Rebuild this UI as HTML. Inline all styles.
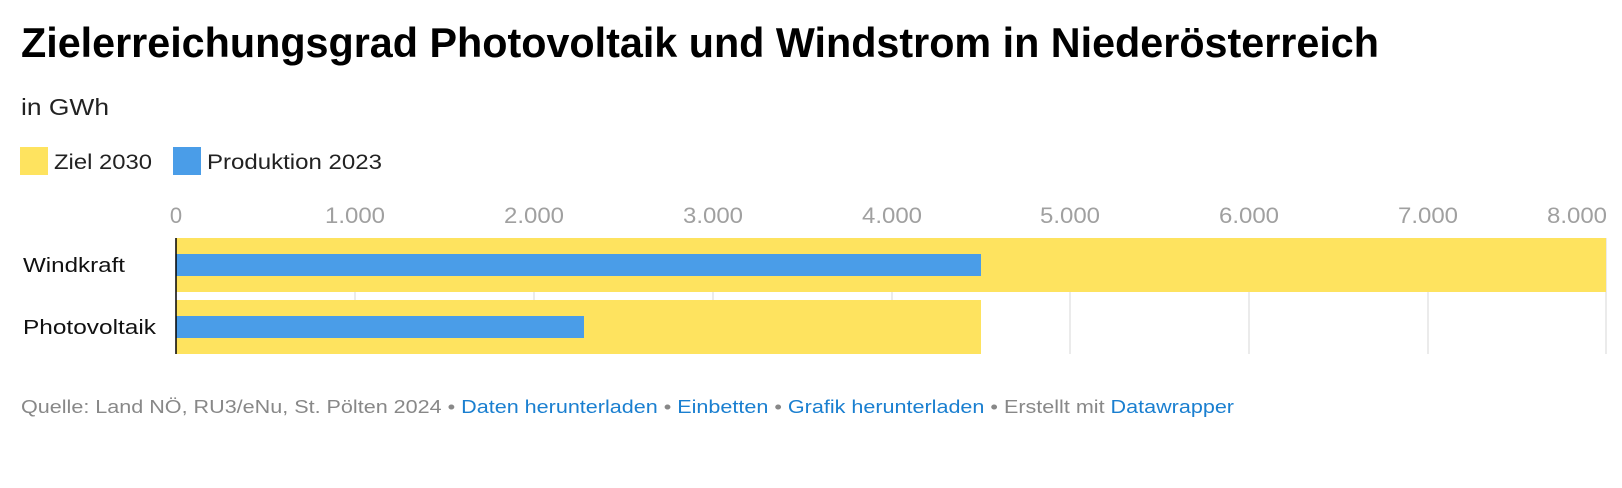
<!DOCTYPE html>
<html><head><meta charset="utf-8"><style>
html,body{margin:0;padding:0;background:#fff;}
svg{display:block;font-family:"Liberation Sans",Arial,sans-serif;}
</style></head><body>
<svg width="1622" height="488" viewBox="0 0 1622 488" xmlns="http://www.w3.org/2000/svg">
<text x="21" y="57" font-size="42" font-weight="bold" fill="#000" textLength="1358" lengthAdjust="spacingAndGlyphs">Zielerreichungsgrad Photovoltaik und Windstrom in Niederösterreich</text>
<text x="21" y="115" font-size="23" fill="#222" textLength="88" lengthAdjust="spacingAndGlyphs">in GWh</text>
<rect x="20" y="147" width="28" height="28" fill="#fee35f"/>
<text x="54" y="169" font-size="21" fill="#222" textLength="98" lengthAdjust="spacingAndGlyphs">Ziel 2030</text>
<rect x="173" y="147" width="28" height="28" fill="#4a9de8"/>
<text x="207" y="169" font-size="21" fill="#222" textLength="175" lengthAdjust="spacingAndGlyphs">Produktion 2023</text>
<g font-size="22" fill="#a0a0a0" text-anchor="middle">
<text x="176" y="223">0</text>
<text x="355" y="223" textLength="60" lengthAdjust="spacingAndGlyphs">1.000</text>
<text x="534" y="223" textLength="60" lengthAdjust="spacingAndGlyphs">2.000</text>
<text x="713" y="223" textLength="60" lengthAdjust="spacingAndGlyphs">3.000</text>
<text x="892" y="223" textLength="60" lengthAdjust="spacingAndGlyphs">4.000</text>
<text x="1070" y="223" textLength="60" lengthAdjust="spacingAndGlyphs">5.000</text>
<text x="1249" y="223" textLength="60" lengthAdjust="spacingAndGlyphs">6.000</text>
<text x="1428" y="223" textLength="60" lengthAdjust="spacingAndGlyphs">7.000</text>
<text x="1577" y="223" textLength="60" lengthAdjust="spacingAndGlyphs">8.000</text>
</g>
<g stroke="#e4e4e4" stroke-width="1.5">
<line x1="355" y1="238" x2="355" y2="354"/><line x1="534" y1="238" x2="534" y2="354"/>
<line x1="713" y1="238" x2="713" y2="354"/><line x1="892" y1="238" x2="892" y2="354"/>
<line x1="1070" y1="238" x2="1070" y2="354"/><line x1="1249" y1="238" x2="1249" y2="354"/>
<line x1="1428" y1="238" x2="1428" y2="354"/><line x1="1606" y1="238" x2="1606" y2="354"/>
</g>
<rect x="176" y="238" width="1430" height="54" fill="#fee35f"/>
<rect x="176" y="254" width="805" height="22" fill="#4a9de8"/>
<rect x="176" y="300" width="805" height="54" fill="#fee35f"/>
<rect x="176" y="316" width="408" height="22" fill="#4a9de8"/>
<line x1="176" y1="238" x2="176" y2="354" stroke="#000" stroke-width="1.5"/>
<text x="23" y="272" font-size="20" fill="#111" textLength="102" lengthAdjust="spacingAndGlyphs">Windkraft</text>
<text x="23" y="334" font-size="20" fill="#111" textLength="133" lengthAdjust="spacingAndGlyphs">Photovoltaik</text>
<text x="21" y="413" font-size="18" fill="#888" textLength="1213" lengthAdjust="spacingAndGlyphs">Quelle: Land NÖ, RU3/eNu, St. Pölten 2024 • <tspan fill="#1a7fd0">Daten herunterladen</tspan> • <tspan fill="#1a7fd0">Einbetten</tspan>  • <tspan fill="#1a7fd0">Grafik herunterladen</tspan> • Erstellt mit <tspan fill="#1a7fd0">Datawrapper</tspan></text>
</svg>
</body></html>
